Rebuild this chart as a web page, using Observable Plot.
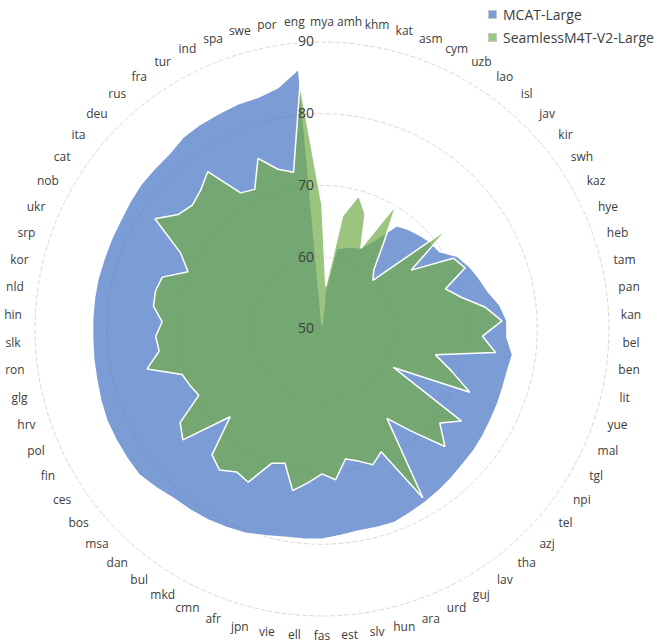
<!DOCTYPE html>
<html><head><meta charset="utf-8">
<script src="https://cdn.jsdelivr.net/npm/d3@7"></script>
<script src="https://cdn.jsdelivr.net/npm/@observablehq/plot@0.6"></script>
<style>
body{margin:0;background:#fff;}
#wrap{position:relative;width:661px;height:643px;font-family:"Open Sans",sans-serif;}
#legend{position:absolute;left:488px;top:3px;font-size:14px;color:#404040;}
.item{display:flex;align-items:center;height:23px;white-space:nowrap;}
.sw{width:9px;height:9px;margin-right:6px;box-sizing:border-box;border:1px solid #c8c8c8;}
</style></head>
<body><div id="wrap"><div id="chart"></div><div id="legend"></div></div>
<script>
const languages = ["mya","amh","khm","kat","asm","cym","uzb","lao","isl","jav","kir","swh","kaz","hye","heb","tam","pan","kan","bel","ben","lit","yue","mal","tgl","npi","tel","azj","tha","lav","guj","urd","ara","hun","slv","est","fas","ell","vie","jpn","afr","cmn","mkd","bul","dan","msa","bos","ces","fin","pol","hrv","glg","ron","slk","hin","nld","kor","srp","ukr","nob","cat","ita","deu","rus","fra","tur","ind","spa","swe","por","eng"];
const mcatLarge = [50.5,55.5,61.4,61.8,62.2,62.5,64.5,67.8,68.4,68.9,69.4,69.6,71.4,72.3,73.0,73.7,75.0,75.8,75.8,76.8,76.5,76.5,76.6,76.7,76.9,77.1,77.2,77.5,77.8,78.1,78.4,78.8,78.7,78.6,78.9,79.3,79.4,79.5,79.9,80.4,80.7,81.0,81.2,81.4,82.0,82.6,82.6,82.6,82.6,82.4,82.2,82.1,82.0,82.0,82.0,82.0,81.9,81.9,81.9,82.1,82.3,82.3,82.4,83.0,83.2,83.3,83.5,83.5,84.2,86.4];
const seamlessLarge = [67.3,56.0,66.0,69.3,67.1,62.5,70.2,64.4,61.0,59.8,72.3,64.9,70.8,71.7,68.1,69.9,72.9,75.1,72.4,74.4,66.2,69.0,72.4,61.3,73.3,71.0,73.7,68.9,65.4,77.4,69.0,70.2,69.1,68.4,71.1,70.2,71.5,72.9,69.4,70.0,73.7,73.2,74.3,73.3,67.7,74.8,73.7,69.5,70.0,70.5,75.0,72.9,73.2,72.3,73.7,73.8,73.4,70.3,72.4,77.9,75.6,75.0,75.7,77.1,72.1,71.6,75.4,73.1,72.2,84.2];
const ringTicks = [50,60,70,80,90];
const seriesNames = ["MCAT-Large","SeamlessM4T-V2-Large"];
const seriesColors = ["#4472C4","#70AD47"];

const vMin = 50, vMax = 90;
const n = languages.length;
const lon = i => 180 - i * 360 / n;           // clockwise from top
const lat = v => 90 - (v - vMin);             // distance from centre in degrees

const W = 661, H = 643;
const mL = 34.5, mT = 41.5, side = 574;
const pxPerUnit = side / 2 / (vMax - vMin);

const rows = [];
seriesNames.forEach((s, k) => {
  const vals = k === 0 ? mcatLarge : seamlessLarge;
  languages.forEach((lang, i) => rows.push({series: s, lang, i, value: vals[i]}));
});

// radial label offset (px) based on angle, converted to value units
const labelOffset = i => {
  const t = (i * 360 / n) * Math.PI / 180;
  return (13 + 9 * Math.abs(Math.sin(t)) + 7 * Math.abs(Math.cos(t))) / pxPerUnit;
};

const chart = Plot.plot({
  width: W, height: H,
  marginLeft: mL, marginTop: mT, marginRight: W - mL - side, marginBottom: H - mT - side,
  projection: {
    type: "azimuthal-equidistant",
    rotate: [0, -90],
    clip: false,
    domain: d3.geoCircle().center([0, 90]).radius(vMax - vMin)()
  },
  color: {domain: seriesNames, range: seriesColors},
  style: {fontFamily: "Open Sans, sans-serif", color: "#404040", background: "white", overflow: "visible"},
  marks: [
    Plot.geo(ringTicks.filter(t => t > vMin), {
      geometry: t => d3.geoCircle().center([0, 90]).radius(t - vMin).precision(2)(),
      stroke: "#d9d9d9", fill: "none", strokeDasharray: "4,3", strokeWidth: 1
    }),
    Plot.line(rows, {
      x: d => lon(d.i), y: d => lat(d.value), z: "series",
      fill: "series", fillOpacity: 0.7,
      stroke: "white", strokeWidth: 1.5, strokeLinejoin: "miter",
      curve: "linear-closed"
    }),
    Plot.text(ringTicks, {
      x: 180, y: d => lat(d), text: d => String(d),
      textAnchor: "end", dx: -8, fontSize: 14, fill: "#404040"
    }),
    Plot.text(languages, {
      x: (d, i) => lon(i), y: (d, i) => lat(vMax + labelOffset(i)),
      text: d => d, fontSize: 12, fill: "#404040"
    })
  ]
});
document.getElementById("chart").appendChild(chart);

const leg = document.getElementById("legend");
seriesNames.forEach((s, k) => {
  const it = document.createElement("div");
  it.className = "item";
  const sw = document.createElement("span");
  sw.className = "sw";
  sw.style.background = d3.interpolateRgb("#ffffff", seriesColors[k])(0.7);
  const tx = document.createElement("span");
  tx.textContent = s;
  it.appendChild(sw); it.appendChild(tx);
  leg.appendChild(it);
});
</script>
</body></html>
